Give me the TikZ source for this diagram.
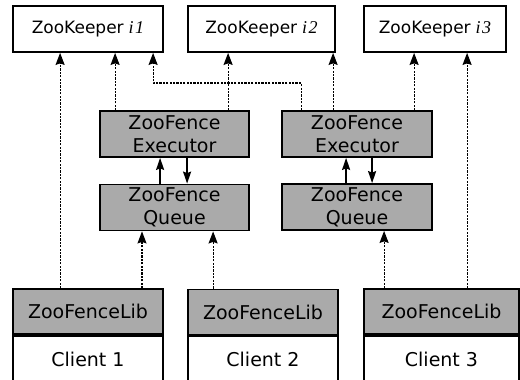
\documentclass[tikz,border=0pt]{standalone}
\usepackage{fontspec}
\setmainfont{DejaVu Sans}
\newfontfamily\zkserif{Liberation Serif}
\usetikzlibrary{arrows.meta}
\definecolor{boxgray}{RGB}{170,170,170}
\newcommand\zkidx[2]{{\zkserif\itshape\fontsize{18}{18}\selectfont #1\kern1.5pt#2}}
\tikzset{
  box/.style={draw=black, line width=1.8pt, inner sep=0pt, align=center},
  zkbox/.style={box, fill=white, minimum height=46pt, font=\fontsize{17}{19}\selectfont},
  graybox/.style={box, fill=boxgray, minimum height=46pt, font=\fontsize{19}{23}\selectfont},
  clientbox/.style={box, fill=white, minimum height=46pt, font=\fontsize{19}{23}\selectfont},
  dep/.style={line width=1.2pt, dash pattern=on 2.2pt off 1.2pt, -{Stealth[length=12pt,width=9pt,inset=1.5pt]}},
  flow/.style={line width=1.6pt, -{Stealth[length=12pt,width=8pt,inset=1.5pt]}}
}
\begin{document}
\begin{tikzpicture}[x=1pt,y=-1pt]
\useasboundingbox (0,0) rectangle (520,380);
% ZooKeepers
\node[zkbox, minimum width=150pt] (zk1) at (88,29) {ZooKeeper\kern5pt\zkidx{i}{1}};
\node[zkbox, minimum width=147pt] (zk2) at (261.5,29) {ZooKeeper\kern5pt\zkidx{i}{2}};
\node[zkbox, minimum width=142pt] (zk3) at (435,29) {ZooKeeper\kern5pt\zkidx{i}{3}};
% Executors
\node[graybox, minimum width=149pt] (exec1) at (174.5,134) {ZooFence\\Executor};
\node[graybox, minimum width=150pt] (exec2) at (357,134) {ZooFence\\Executor};
% Queues
\node[graybox, minimum width=149pt] (queue1) at (174.5,207.5) {ZooFence\\Queue};
\node[graybox, minimum width=150pt] (queue2) at (357,207) {ZooFence\\Queue};
% Libs and clients
\node[graybox, minimum width=150pt, minimum height=45pt] (lib1) at (88,311.5) {ZooFenceLib};
\node[clientbox, minimum width=150pt, minimum height=47pt, anchor=north] (client1) at (lib1.south) {Client 1};
\node[graybox, minimum width=150pt, minimum height=45pt] (lib2) at (263,312) {ZooFenceLib};
\node[clientbox, minimum width=150pt, minimum height=47pt, anchor=north] (client2) at (lib2.south) {Client 2};
\node[graybox, minimum width=155pt, minimum height=45pt] (lib3) at (441.5,311.5) {ZooFenceLib};
\node[clientbox, minimum width=155pt, minimum height=47pt, anchor=north] (client3) at (lib3.south) {Client 3};
% connector points
\coordinate (p1) at ([xshift=48pt]lib1.north west);
\coordinate (p2) at ([xshift=16pt]exec1.north west);
\coordinate (p3) at ([xshift=20pt]exec2.north west);
\coordinate (c3) at ([xshift=141pt]zk1.south west);
\coordinate (lvl) at (0,83);
\coordinate (p4) at ([xshift=129pt]exec1.north west);
\coordinate (p5) at ([xshift=52pt]exec2.north west);
\coordinate (p6) at ([xshift=133pt]exec2.north west);
\coordinate (p7) at ([xshift=104pt]lib3.north west);
\coordinate (p8) at ([xshift=54pt]lib1.north);
\coordinate (p9) at ([xshift=26pt]lib2.north west);
\coordinate (p10) at ([xshift=21pt]lib3.north west);
\coordinate (q1) at ([xshift=61pt]queue1.north west);
\coordinate (q2) at ([xshift=88pt]exec1.south west);
\coordinate (q3) at ([xshift=65pt]queue2.north west);
\coordinate (q4) at ([xshift=91pt]exec2.south west);
% dotted connectors
\draw[dep] (p1) -- (p1 |- zk1.south);
\draw[dep] (p2) -- (p2 |- zk1.south);
\draw[dep] (p3) -- (p3 |- lvl) -- (c3 |- lvl) -- (c3);
\draw[dep] (p4) -- (p4 |- zk2.south);
\draw[dep] (p5) -- (p5 |- zk2.south);
\draw[dep] (p6) -- (p6 |- zk3.south);
\draw[dep] (p7) -- (p7 |- zk3.south);
\draw[dep] (p8) -- (p8 |- queue1.south);
\draw[dep] (p9) -- (p9 |- queue1.south);
\draw[dep] (p10) -- (p10 |- queue2.south);
% solid connectors
\draw[flow] (q1) -- (q1 |- exec1.south);
\draw[flow] (q2) -- (q2 |- queue1.north);
\draw[flow] (q3) -- (q3 |- exec2.south);
\draw[flow] (q4) -- (q4 |- queue2.north);
\end{tikzpicture}
\end{document}
